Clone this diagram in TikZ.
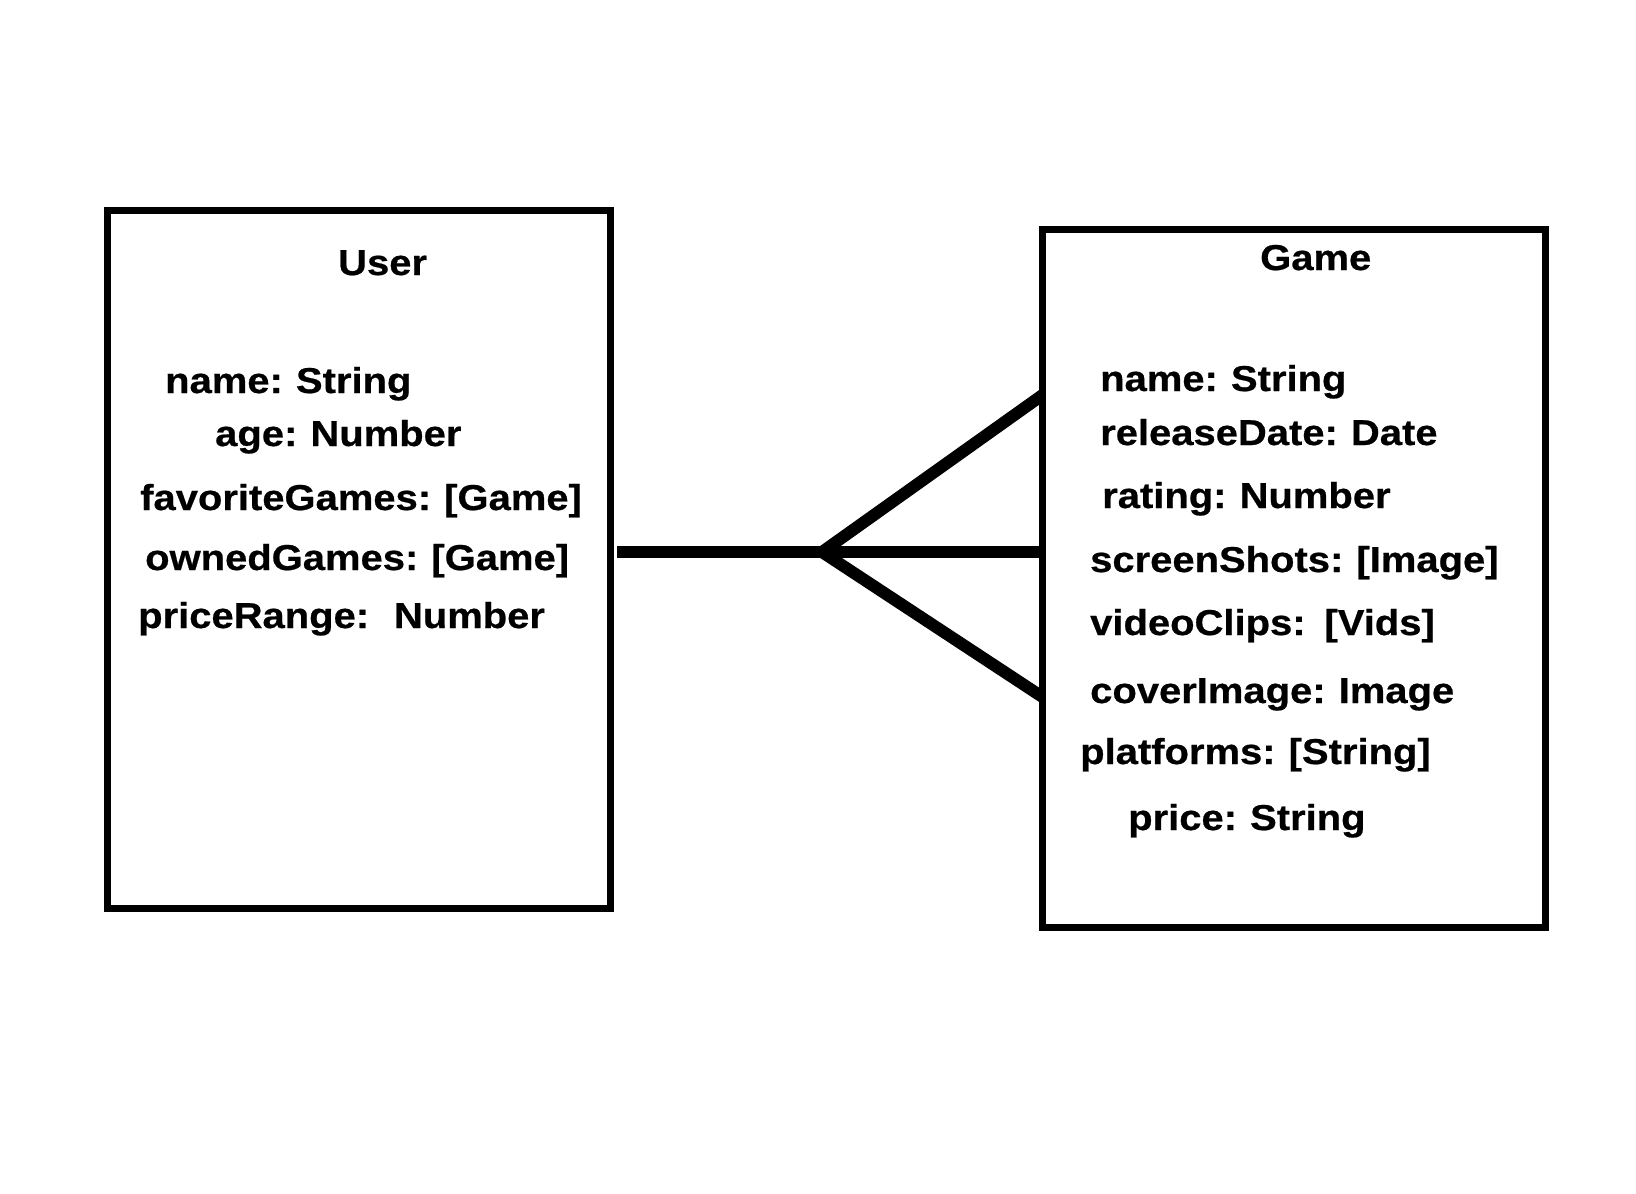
\documentclass[tikz,border=0pt]{standalone}
\usepackage{fontspec}
\usetikzlibrary{calc}
\newfontfamily\lbl{Liberation Sans Bold}[FakeStretch=1.11, WordSpace=0.85, FakeBold=0.6]
\begin{document}
\begin{tikzpicture}[x=1pt,y=-1pt,
  box/.style={draw=black, line width=7pt, rectangle, minimum width=503pt, minimum height=698pt, inner sep=0pt},
  lab/.style={anchor=base west, inner sep=0pt, font=\lbl\fontsize{36}{42}\selectfont},
  conn/.style={line width=12pt, line cap=butt, line join=miter}]
\useasboundingbox (0,0) rectangle (1636,1194);
\node[box] (user) at (359,559.5) {};
\node[box] (game) at (1294,578.5) {};
% User texts
\node[lab] (ut) at (338,275) {User};
\node[lab] (u1) at (165,393) {name: String};
\node[lab] (u2) at (215,446) {age: Number};
\node[lab] (u3) at (140,510) {favoriteGames: [Game]};
\node[lab] (u4) at (145,570) {ownedGames: [Game]};
\node[lab] (u5) at (138,628) {priceRange:\ \ \kern6pt Number};
% Game texts
\node[lab] (gt) at (1260,270) {Game};
\node[lab] (g1) at (1100,391) {name: String};
\node[lab] (g2) at (1100,445) {releaseDate: Date};
\node[lab] (g3) at (1102,508) {rating: Number};
\node[lab] (g4) at (1090,572) {screenShots: [Image]};
\node[lab] (g5) at (1090,635) {videoClips:\ \ [Vids]};
\node[lab] (g6) at (1090,703) {coverImage: Image};
\node[lab] (g7) at (1080,764) {platforms: [String]};
\node[lab] (g8) at (1128,830) {price: String};
% connector (crow's foot)
\coordinate (apex) at (822,552);
\coordinate (gup) at (1042.5,395);
\coordinate (glow) at (1042.5,697);
\draw[conn] ($(user.east |- apex)+(3,0)$) -- (game.west |- apex);
\draw[conn] (gup) -- (apex) -- (glow);
\end{tikzpicture}
\end{document}
